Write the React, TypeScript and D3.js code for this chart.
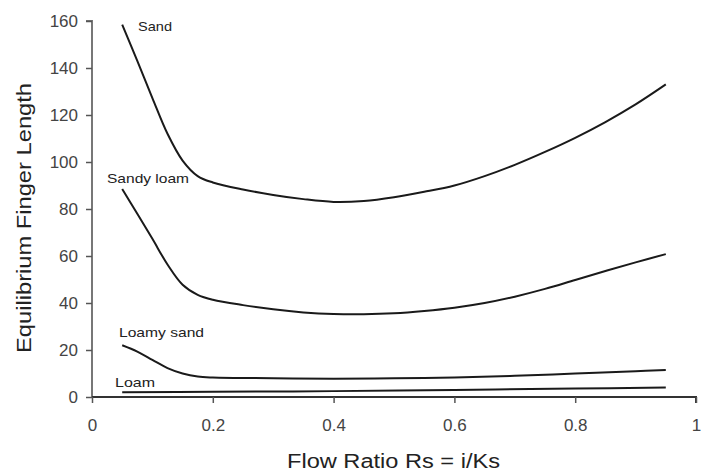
import React, { useEffect, useRef } from "react";
import * as d3 from "d3";

const xTicks = [0, 0.2, 0.4, 0.6, 0.8, 1];
const yTicks = [0, 20, 40, 60, 80, 100, 120, 140, 160];

const sandRs = [0.05, 0.075, 0.1, 0.125, 0.15, 0.175, 0.2, 0.25, 0.3, 0.35, 0.4, 0.45, 0.5, 0.55, 0.6, 0.65, 0.7, 0.75, 0.8, 0.85, 0.9, 0.95];
const sandVals = [158.5, 143, 127.2, 112, 100.6, 94, 91.3, 88.3, 86, 84.2, 83, 83.4, 85, 87.3, 90, 94, 98.8, 104.3, 110.3, 117, 124.5, 133];

const sandyLoamRs = [0.05, 0.075, 0.1, 0.125, 0.15, 0.175, 0.2, 0.25, 0.3, 0.35, 0.4, 0.45, 0.5, 0.55, 0.6, 0.65, 0.7, 0.75, 0.8, 0.85, 0.9, 0.95];
const sandyLoamVals = [88.5, 78, 67.3, 56.4, 47.8, 43.5, 41.4, 39.1, 37.3, 36, 35.3, 35.2, 35.6, 36.6, 38, 40, 42.7, 46, 49.8, 53.6, 57.3, 60.8];

const loamySandRs = [0.05, 0.075, 0.1, 0.125, 0.15, 0.175, 0.2, 0.3, 0.4, 0.5, 0.6, 0.7, 0.8, 0.9, 0.95];
const loamySandVals = [22, 19.3, 15.8, 12.3, 10, 8.7, 8.3, 8, 7.8, 8, 8.3, 9, 10, 11, 11.5];

const loamRs = [0.05, 0.2, 0.4, 0.6, 0.8, 0.95];
const loamVals = [2, 2.2, 2.5, 3, 3.6, 4];

const seriesNames = ["Sand", "Sandy loam", "Loamy sand", "Loam"];

export default function App() {
  const ref = useRef<SVGSVGElement>(null);

  useEffect(() => {
    const svg = d3.select(ref.current);
    svg.selectAll("*").remove();
    const W = 701, H = 472;
    const x = d3.scaleLinear().domain([0, 1]).range([92, 696]);
    const y = d3.scaleLinear().domain([0, 160]).range([397, 21]);
    const font = "Arial, 'Liberation Sans', sans-serif";

    svg.append("rect").attr("width", W).attr("height", H).attr("fill", "#fff");

    const series = [
      { name: seriesNames[0], rs: sandRs, v: sandVals, lx: 138, ly: 31, lw: 34 },
      { name: seriesNames[1], rs: sandyLoamRs, v: sandyLoamVals, lx: 107, ly: 183, lw: 82 },
      { name: seriesNames[2], rs: loamySandRs, v: loamySandVals, lx: 119, ly: 337, lw: 85 },
      { name: seriesNames[3], rs: loamRs, v: loamVals, lx: 115, ly: 387, lw: 40 },
    ];

    const yAxis = svg.append("g").attr("transform", `translate(${x(0)},0)`)
      .call(d3.axisLeft(y).tickValues(yTicks).tickSize(6).tickPadding(8).tickFormat(d3.format("d")));
    const xAxis = svg.append("g").attr("transform", `translate(0,${y(0)})`)
      .call(d3.axisBottom(x).tickValues(xTicks).tickSize(6).tickPadding(16).tickFormat((d: any) => d3.format("")(d)));
    [yAxis, xAxis].forEach((g) => {
      g.select(".domain").attr("stroke", "#555").attr("stroke-width", 2);
      g.selectAll(".tick line").attr("stroke", "#555").attr("stroke-width", 1.5);
      g.selectAll(".tick text").attr("fill", "#444").attr("font-size", 17).attr("font-family", font);
    });
    yAxis.select(".domain").attr("d", `M-6,${y(160)}H0V${y(0)}`).attr("stroke", "#777");
    xAxis.select(".domain").attr("d", `M${x(0)},0H${x(1)}V6`).attr("stroke", "#333");

    const line = d3.line<[number, number]>()
      .x((d) => x(d[0]))
      .y((d) => y(d[1]))
      .curve(d3.curveCatmullRom.alpha(0.5));

    series.forEach((s) => {
      const pts: [number, number][] = s.rs.map((r, i) => [r, s.v[i]]);
      svg.append("path").attr("d", line(pts) as string)
        .attr("fill", "none").attr("stroke", "#1a1a1a").attr("stroke-width", 2);
      svg.append("text").attr("x", s.lx).attr("y", s.ly)
        .attr("font-family", font).attr("font-size", 13).attr("fill", "#222")
        .attr("textLength", s.lw).attr("lengthAdjust", "spacingAndGlyphs")
        .text(s.name);
    });

    svg.append("text").attr("x", 287).attr("y", 468)
      .attr("font-family", font).attr("font-size", 20).attr("fill", "#222")
      .attr("textLength", 213).attr("lengthAdjust", "spacingAndGlyphs")
      .text("Flow Ratio Rs = i/Ks");

    svg.append("text").attr("transform", "translate(31,353) rotate(-90)")
      .attr("font-family", font).attr("font-size", 20).attr("fill", "#222")
      .attr("textLength", 270).attr("lengthAdjust", "spacingAndGlyphs")
      .text("Equilibrium Finger Length");
  }, []);

  return (
    <svg ref={ref} width={701} height={472}
      style={{ position: "absolute", left: 0, top: 0, display: "block" }} />
  );
}
